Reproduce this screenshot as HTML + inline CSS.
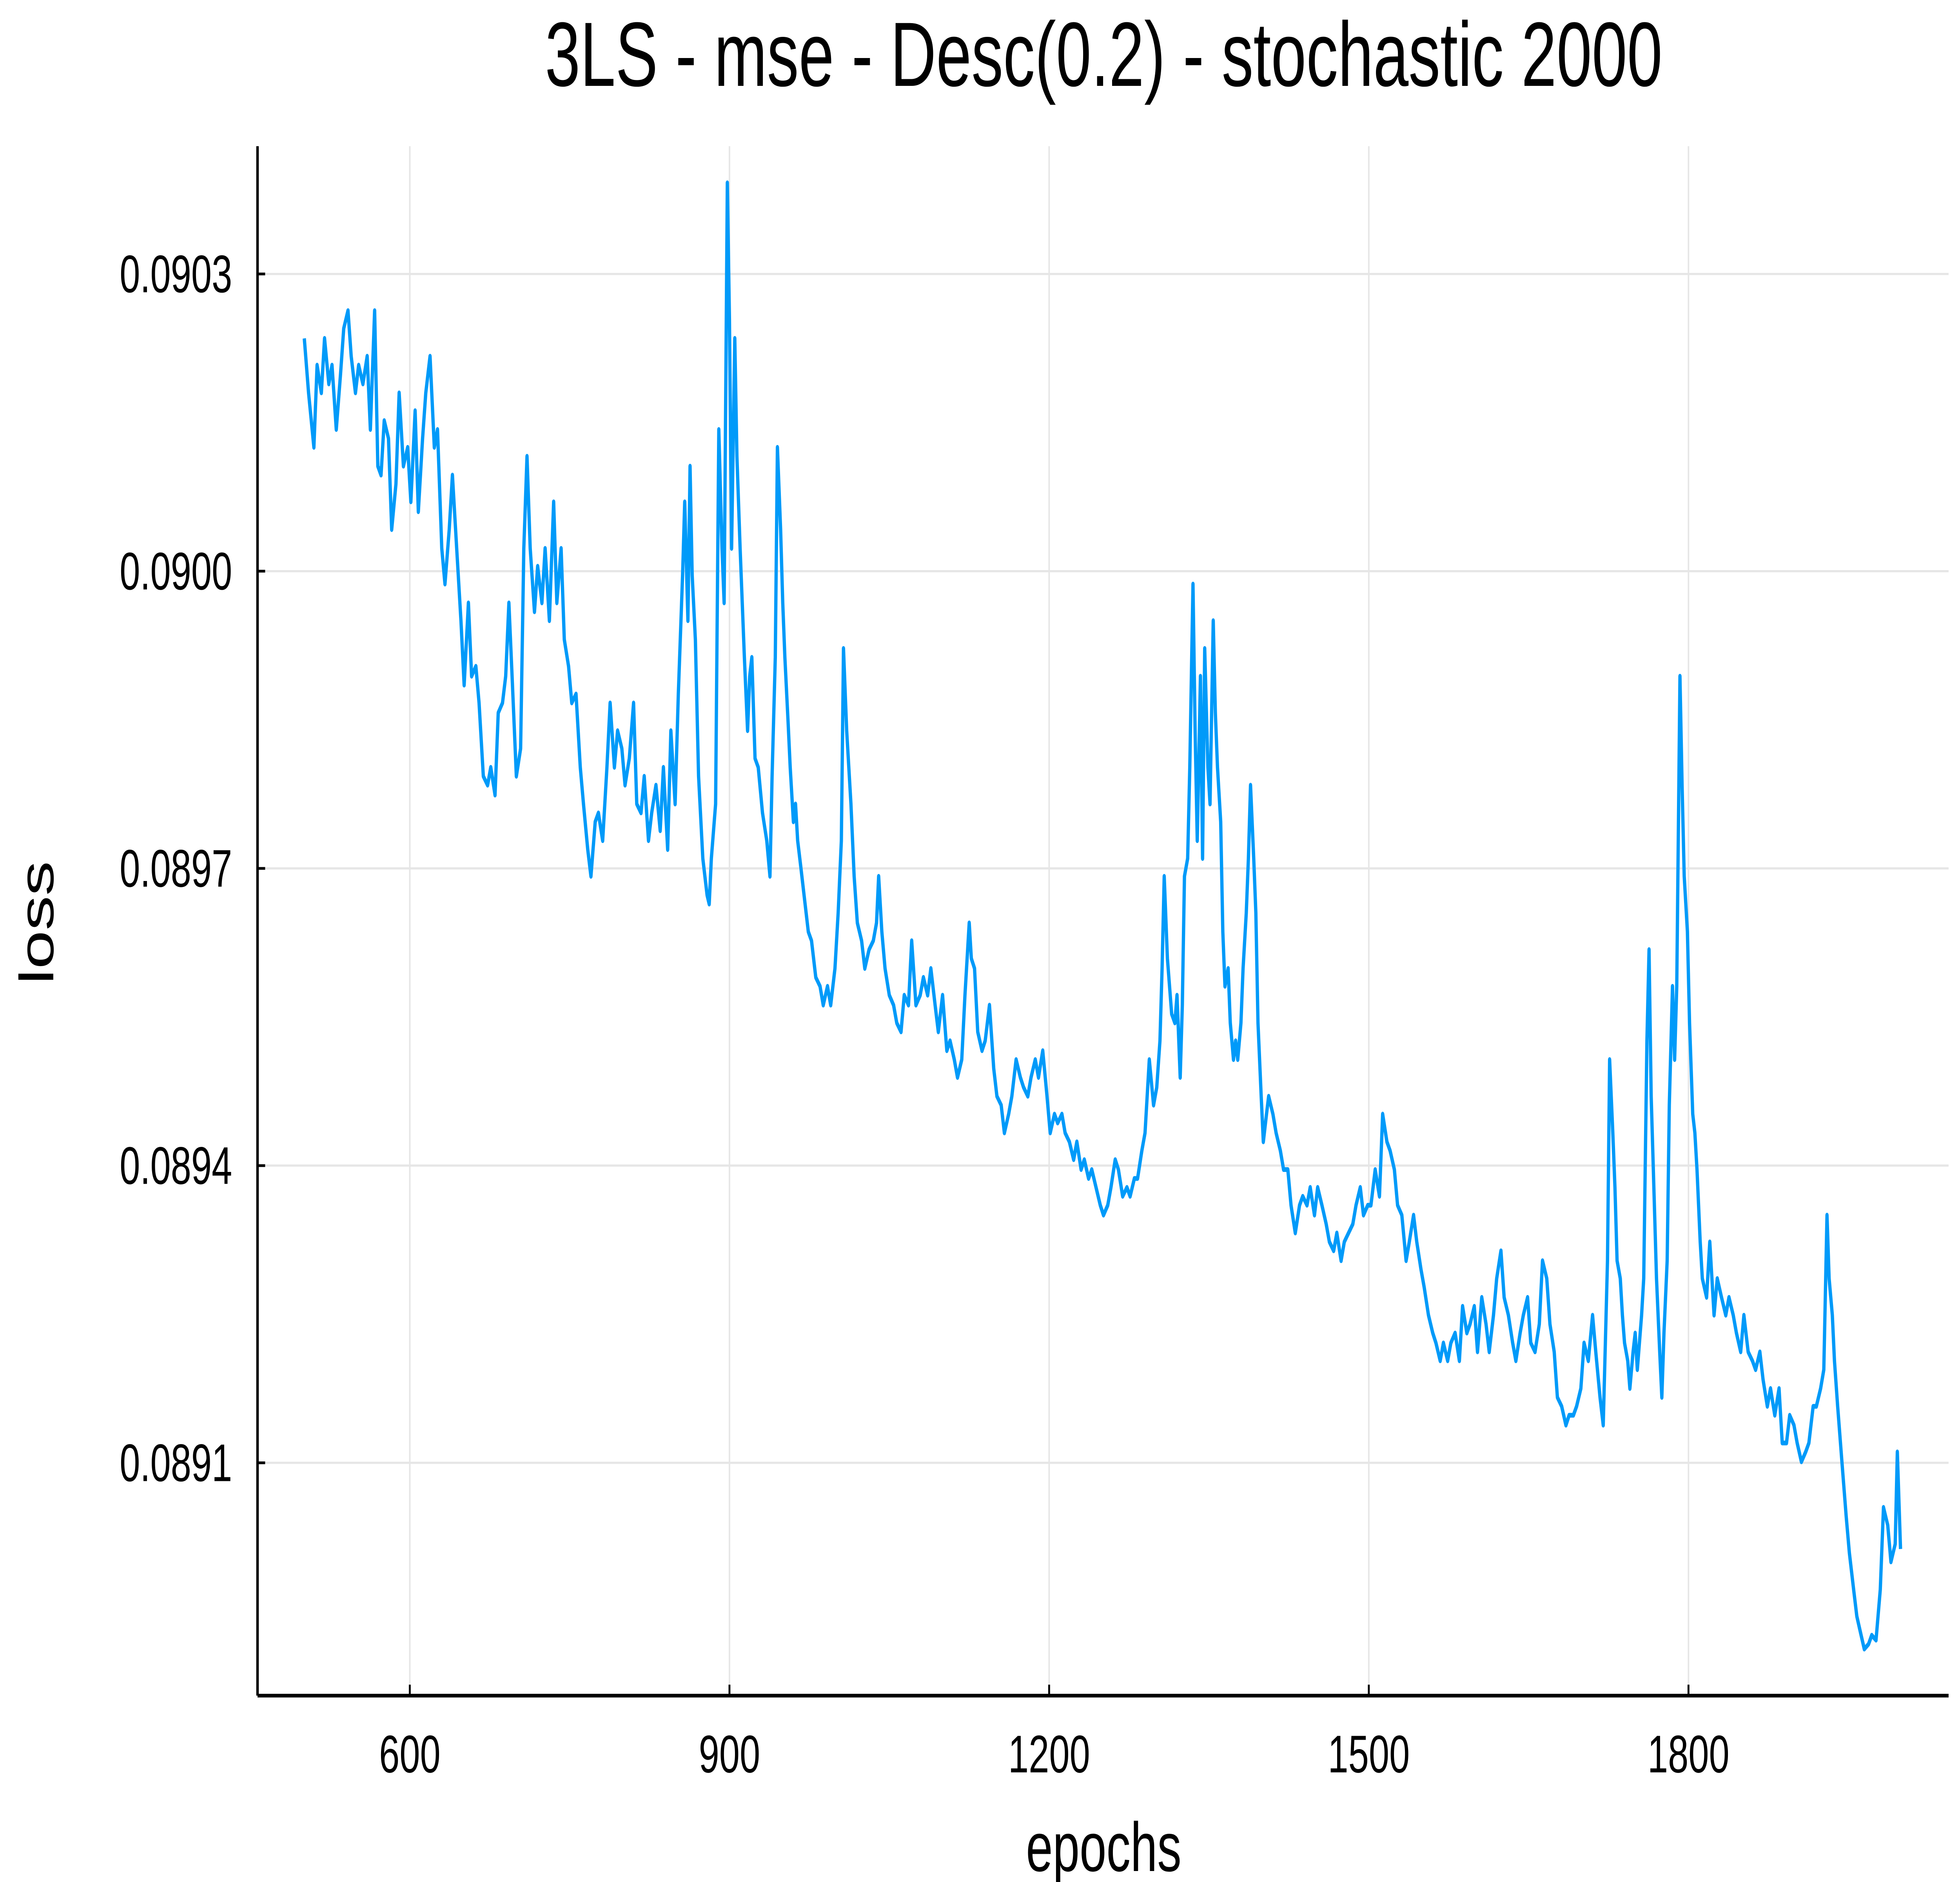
<!DOCTYPE html>
<html><head><meta charset="utf-8"><style>
html,body{margin:0;padding:0;background:#fff;width:100vw;height:100vh;overflow:hidden;}
svg{display:block;width:100vw;height:100vh;}
text{font-family:"Liberation Sans","DejaVu Sans",sans-serif;fill:#000;}
</style></head><body>
<svg id="chart" viewBox="0 0 1545 1030" preserveAspectRatio="none" xmlns="http://www.w3.org/2000/svg">
<rect x="0" y="0" width="1545" height="1030" fill="#fff"/>
<g id="grid"></g>
<g id="series"></g>
<g id="axes"></g>
<text x="870" y="47" font-size="50" text-anchor="middle">3LS - mse - Desc(0.2) - stochastic 2000</text>
<text x="870" y="1024" font-size="38" text-anchor="middle">epochs</text>
<text x="0" y="0" font-size="38" text-anchor="middle" transform="translate(42,505) rotate(-90)">loss</text>
</svg>
<script>
const xTicks = [600, 900, 1200, 1500, 1800];
const xTickLabels = ["600", "900", "1200", "1500", "1800"];
const yTicks = [0.0891, 0.0894, 0.0897, 0.0900, 0.0903];
const yTickLabels = ["0.0891", "0.0894", "0.0897", "0.0900", "0.0903"];
const epochs = [501,505,510,513,517,520,524,527,531,535,538,542,545,549,552,556,560,563,567,570,573,576,580,583,587,590,594,598,601,605,608,612,615,619,623,626,630,633,637,640,644,648,651,655,658,662,665,669,673,676,680,683,687,690,693,696,700,704,707,710,713,717,720,724,727,731,735,738,742,745,749,752,756,760,763,767,770,774,777,781,785,788,792,795,799,802,806,810,813,817,820,824,827,831,835,838,842,845,849,852,856,858,861,863,865,868,871,875,879,881,883,887,890,893,895,898,900,902,905,907,910,912,914,917,919,921,924,927,931,935,938,940,943,945,948,950,952,955,957,960,962,964,967,970,974,977,981,985,988,992,995,999,1002,1005,1007,1010,1012,1014,1017,1020,1024,1027,1031,1035,1038,1040,1043,1046,1050,1054,1057,1061,1064,1068,1071,1075,1079,1082,1086,1089,1093,1096,1100,1104,1107,1111,1114,1118,1121,1125,1127,1130,1133,1137,1140,1144,1148,1151,1155,1158,1162,1165,1169,1173,1176,1180,1183,1187,1190,1194,1198,1201,1205,1208,1212,1215,1219,1223,1226,1230,1233,1237,1240,1244,1248,1251,1255,1258,1262,1265,1269,1273,1276,1280,1283,1287,1290,1294,1298,1301,1304,1306,1308,1311,1313,1315,1318,1320,1323,1325,1327,1330,1332,1335,1337,1339,1342,1344,1346,1349,1351,1354,1356,1358,1361,1363,1365,1368,1370,1373,1375,1377,1380,1382,1385,1387,1389,1392,1394,1396,1399,1401,1404,1406,1410,1413,1417,1420,1424,1427,1431,1435,1438,1442,1445,1449,1452,1456,1460,1463,1467,1470,1474,1477,1481,1485,1488,1492,1495,1499,1502,1506,1510,1513,1517,1520,1524,1527,1531,1535,1538,1542,1545,1549,1552,1556,1560,1563,1567,1570,1574,1577,1581,1585,1588,1592,1595,1599,1602,1606,1610,1613,1617,1620,1624,1627,1631,1635,1638,1642,1645,1649,1652,1656,1660,1663,1667,1670,1674,1677,1681,1685,1688,1692,1695,1699,1702,1706,1710,1713,1717,1720,1724,1726,1729,1731,1733,1736,1738,1740,1743,1745,1748,1750,1752,1756,1758,1761,1763,1765,1768,1770,1773,1775,1777,1780,1782,1785,1787,1789,1792,1794,1796,1799,1801,1804,1806,1808,1811,1813,1817,1820,1824,1827,1831,1835,1838,1842,1845,1849,1852,1856,1860,1863,1867,1870,1874,1877,1881,1885,1888,1892,1895,1899,1902,1906,1910,1913,1917,1920,1924,1927,1930,1932,1935,1937,1940,1944,1948,1951,1955,1958,1962,1965,1969,1972,1976,1980,1983,1987,1990,1994,1996,1999];
const losses = [0.090235,0.090180,0.090125,0.090208,0.090180,0.090235,0.090189,0.090208,0.090143,0.090199,0.090245,0.090263,0.090217,0.090180,0.090208,0.090189,0.090217,0.090143,0.090263,0.090106,0.090097,0.090152,0.090134,0.090042,0.090088,0.090180,0.090106,0.090125,0.090070,0.090162,0.090060,0.090134,0.090180,0.090217,0.090125,0.090143,0.090023,0.089987,0.090042,0.090097,0.090023,0.089950,0.089885,0.089968,0.089894,0.089904,0.089867,0.089793,0.089784,0.089802,0.089774,0.089857,0.089867,0.089894,0.089968,0.089894,0.089793,0.089821,0.090023,0.090116,0.090023,0.089959,0.090005,0.089968,0.090023,0.089950,0.090070,0.089968,0.090023,0.089931,0.089904,0.089867,0.089876,0.089802,0.089765,0.089719,0.089692,0.089747,0.089756,0.089728,0.089802,0.089867,0.089802,0.089839,0.089821,0.089784,0.089811,0.089867,0.089765,0.089756,0.089793,0.089728,0.089756,0.089784,0.089738,0.089802,0.089719,0.089839,0.089765,0.089876,0.089996,0.090070,0.089950,0.090106,0.089996,0.089931,0.089793,0.089710,0.089673,0.089664,0.089710,0.089765,0.090143,0.090023,0.089968,0.090392,0.090254,0.090023,0.090235,0.090116,0.090023,0.089968,0.089913,0.089839,0.089894,0.089913,0.089811,0.089802,0.089756,0.089728,0.089692,0.089793,0.089913,0.090125,0.090042,0.089968,0.089913,0.089848,0.089802,0.089747,0.089765,0.089728,0.089701,0.089673,0.089636,0.089627,0.089590,0.089581,0.089562,0.089581,0.089562,0.089599,0.089655,0.089728,0.089922,0.089839,0.089802,0.089765,0.089692,0.089645,0.089627,0.089599,0.089618,0.089627,0.089645,0.089692,0.089636,0.089599,0.089572,0.089562,0.089544,0.089535,0.089572,0.089562,0.089627,0.089562,0.089572,0.089590,0.089572,0.089599,0.089562,0.089535,0.089572,0.089516,0.089526,0.089507,0.089489,0.089507,0.089572,0.089645,0.089609,0.089599,0.089535,0.089516,0.089526,0.089562,0.089498,0.089470,0.089461,0.089433,0.089452,0.089470,0.089507,0.089489,0.089479,0.089470,0.089489,0.089507,0.089489,0.089516,0.089470,0.089433,0.089452,0.089443,0.089452,0.089433,0.089424,0.089406,0.089424,0.089396,0.089406,0.089387,0.089396,0.089378,0.089360,0.089350,0.089360,0.089378,0.089406,0.089396,0.089369,0.089378,0.089369,0.089387,0.089387,0.089415,0.089433,0.089507,0.089461,0.089479,0.089526,0.089599,0.089692,0.089609,0.089581,0.089553,0.089544,0.089572,0.089489,0.089562,0.089692,0.089710,0.089802,0.089987,0.089839,0.089728,0.089894,0.089710,0.089922,0.089802,0.089765,0.089950,0.089857,0.089802,0.089747,0.089636,0.089581,0.089599,0.089544,0.089507,0.089526,0.089507,0.089544,0.089599,0.089655,0.089710,0.089784,0.089710,0.089655,0.089544,0.089470,0.089424,0.089452,0.089470,0.089452,0.089433,0.089415,0.089396,0.089396,0.089360,0.089332,0.089360,0.089369,0.089360,0.089378,0.089350,0.089378,0.089360,0.089341,0.089323,0.089314,0.089332,0.089304,0.089323,0.089332,0.089341,0.089360,0.089378,0.089350,0.089360,0.089360,0.089396,0.089369,0.089452,0.089424,0.089415,0.089396,0.089360,0.089350,0.089304,0.089323,0.089350,0.089323,0.089295,0.089277,0.089249,0.089231,0.089221,0.089203,0.089221,0.089203,0.089221,0.089231,0.089203,0.089258,0.089231,0.089240,0.089258,0.089212,0.089267,0.089240,0.089212,0.089249,0.089286,0.089314,0.089267,0.089249,0.089221,0.089203,0.089231,0.089249,0.089267,0.089221,0.089212,0.089240,0.089304,0.089286,0.089240,0.089212,0.089166,0.089157,0.089138,0.089148,0.089148,0.089157,0.089175,0.089221,0.089203,0.089249,0.089212,0.089166,0.089138,0.089304,0.089507,0.089433,0.089378,0.089304,0.089286,0.089249,0.089221,0.089203,0.089175,0.089212,0.089231,0.089194,0.089249,0.089286,0.089526,0.089618,0.089470,0.089360,0.089286,0.089212,0.089166,0.089231,0.089304,0.089461,0.089581,0.089507,0.089581,0.089894,0.089784,0.089692,0.089636,0.089544,0.089452,0.089433,0.089396,0.089323,0.089286,0.089267,0.089323,0.089249,0.089286,0.089267,0.089249,0.089267,0.089249,0.089231,0.089212,0.089249,0.089212,0.089203,0.089194,0.089212,0.089184,0.089157,0.089175,0.089148,0.089175,0.089120,0.089120,0.089148,0.089138,0.089120,0.089101,0.089111,0.089120,0.089157,0.089157,0.089175,0.089194,0.089350,0.089286,0.089249,0.089203,0.089157,0.089101,0.089046,0.089009,0.088972,0.088945,0.088926,0.088912,0.088917,0.088926,0.088921,0.088972,0.089055,0.089037,0.089000,0.089018,0.089111,0.089013];

const NS = "http://www.w3.org/2000/svg";
const plotL = 203, plotR = 1536, plotT = 80, plotB = 928;
const xMin = 457.1, xMax = 2044.1, yMin = 0.088865, yMax = 0.090429;
function xScale(v){ return plotL + (v - xMin) / (xMax - xMin) * (plotR - plotL); }
function yScale(v){ return plotB - (v - yMin) / (yMax - yMin) * (plotB - plotT); }
function mk(tag, attrs){ const e = document.createElementNS(NS, tag); for (const k in attrs) e.setAttribute(k, attrs[k]); return e; }

const grid = document.getElementById('grid');
const axes = document.getElementById('axes');
const series = document.getElementById('series');

xTicks.forEach((t, i) => {
  const x = xScale(t);
  const g = mk('line', {x1:x, x2:x, y1:plotT, y2:plotB, stroke:'#e6e6e6', 'stroke-width':1.2});
  
  
  grid.appendChild(g);
  const tk = mk('line', {x1:x, x2:x, y1:plotB, y2:plotB-6, stroke:'#000', 'stroke-width':1.5});
  
  
  axes.appendChild(tk);
  const lb = mk('text', {x:x, y:970, 'font-size':29, 'text-anchor':'middle'});
  lb.textContent = xTickLabels[i];
  
  
  axes.appendChild(lb);
});
yTicks.forEach((t, i) => {
  const y = yScale(t);
  const g = mk('line', {x1:plotL, x2:plotR, y1:y, y2:y, stroke:'#e6e6e6', 'stroke-width':1.2});
  
  
  grid.appendChild(g);
  const tk = mk('line', {x1:plotL, x2:plotL+6, y1:y, y2:y, stroke:'#000', 'stroke-width':1.5});
  
  
  axes.appendChild(tk);
  const lb = mk('text', {x:183, y:y+10, 'font-size':29, 'text-anchor':'end'});
  lb.textContent = yTickLabels[i];
  
  
  axes.appendChild(lb);
});
const xAxis = mk('line', {x1:plotL, x2:plotR, y1:plotB, y2:plotB, stroke:'#000', 'stroke-width':2});


axes.appendChild(xAxis);
const yAxis = mk('line', {x1:plotL, x2:plotL, y1:plotT, y2:plotB, stroke:'#000', 'stroke-width':2});


axes.appendChild(yAxis);

let d = '';
epochs.forEach((e, i) => { d += (i ? 'L' : 'M') + xScale(e).toFixed(2) + ',' + yScale(losses[i]).toFixed(2); });
const path = mk('path', {d:d, fill:'none', stroke:'#009af9', 'stroke-width':2.6, 'stroke-linejoin':'round'});


series.appendChild(path);
</script>
</body></html>
